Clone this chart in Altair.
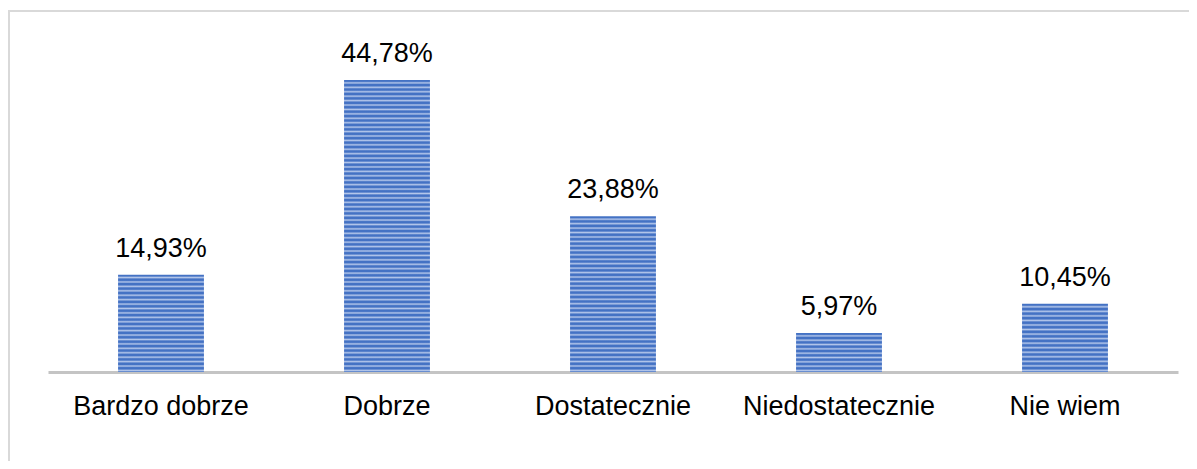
import altair as alt
import pandas as pd

categories = ["Bardzo dobrze", "Dobrze", "Dostatecznie", "Niedostatecznie", "Nie wiem"]
values = [14.93, 44.78, 23.88, 5.97, 10.45]
labels = ["14,93%", "44,78%", "23,88%", "5,97%", "10,45%"]

df = pd.DataFrame({"cat": categories, "val": values, "lab": labels})

PLOT_W, PLOT_H = 1130, 362
YMAX = 55.52
px_per_unit = PLOT_H / YMAX
period = 4.4
DARK = "#4472C4"
LIGHT = "#B3C6EA"


def stripe_gradient(v):
    h = v * px_per_unit
    n = max(1, int(round(h / period)))
    stops = []
    for i in range(n):
        stops.append(alt.GradientStop(offset=round(i / n, 5), color=DARK))
        stops.append(alt.GradientStop(offset=round((i + 0.3) / n, 5), color=DARK))
        stops.append(alt.GradientStop(offset=round((i + 0.65) / n, 5), color=LIGHT))
    stops.append(alt.GradientStop(offset=1, color=DARK))
    return alt.LinearGradient(gradient="linear", stops=stops, x1=0, x2=0, y1=0, y2=1)


x_enc = alt.X(
    "cat:N",
    sort=categories,
    scale=alt.Scale(paddingInner=0.62, paddingOuter=0.31),
    axis=alt.Axis(
        title=None,
        labelAngle=0,
        ticks=False,
        labelFont="Liberation Sans",
        labelFontSize=27,
        labelLimit=0,
        labelColor="#000000",
        labelPadding=21,
        domainColor="#C4C4C4",
        domainWidth=3,
        grid=False,
    ),
)
y_enc = alt.Y("val:Q", scale=alt.Scale(domain=[0, YMAX], nice=False, zero=True), axis=None)

base = alt.Chart(df)

border = base.transform_filter(alt.datum.cat == categories[0]).mark_rect(
    fill=None, stroke="#D9D9D9", strokeWidth=2
).encode(
    x=alt.value(-39), x2=alt.value(3000), y=alt.value(1), y2=alt.value(3000)
)

bar_layers = []
for c, v in zip(categories, values):
    bar_layers.append(
        base.transform_filter(alt.datum.cat == c)
        .mark_bar(color=stripe_gradient(v))
        .encode(x=x_enc, y=y_enc)
    )

text = base.mark_text(
    baseline="alphabetic", dy=-18, font="Liberation Sans", fontSize=27, color="#000000"
).encode(x=alt.X("cat:N", sort=categories), y=alt.Y("val:Q"), text="lab:N")

chart = (
    alt.layer(border, *bar_layers, text)
    .properties(
        width=PLOT_W,
        height=PLOT_H,
        autosize=alt.AutoSizeParams(type="none"),
        padding={"left": 40, "top": 2, "right": 11, "bottom": 89},
        background="#FFFFFF",
    )
    .configure_view(stroke=None)
)

chart.save("out.html", embed_options={"renderer": "svg", "actions": False})
